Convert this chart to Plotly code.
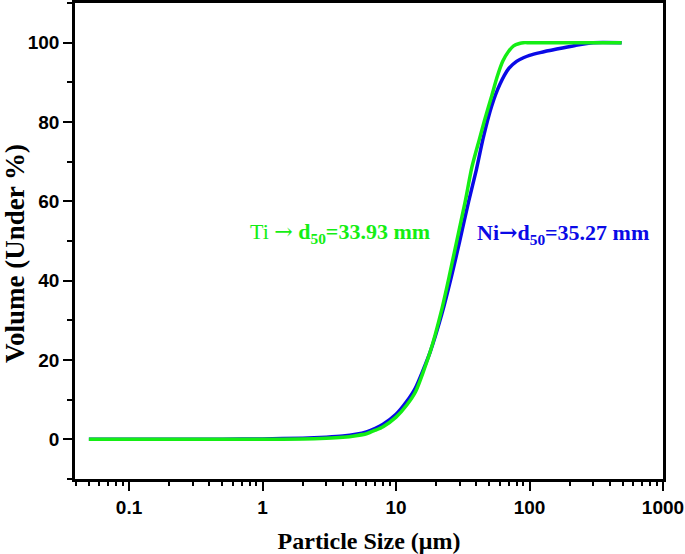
import plotly.graph_objects as go

# Ni (blue) cumulative volume curve
ni_size = [0.05, 0.1, 0.2, 0.5, 1, 2, 3, 4, 5, 6, 7, 8, 10, 12, 14, 18, 22, 26, 30,
           35, 40, 45, 52, 60, 70, 80, 90, 100, 120, 160, 220, 300, 490]
ni_vol = [0, 0, 0, 0.02, 0.1, 0.3, 0.55, 0.85, 1.3, 1.9, 2.8, 3.8, 6.3, 9.5, 13, 22, 31.5,
          41, 50, 60, 68, 76, 84, 89.5, 93.5, 95.3, 96.2, 96.8, 97.5, 98.4, 99.3, 100, 100]

# Ti (green) cumulative volume curve
ti_size = [0.05, 0.1, 0.2, 0.5, 1, 2, 3, 4, 5, 6, 7, 8, 10, 12, 14, 18, 22, 25, 28.5,
           33, 37, 42, 46, 52, 57, 63, 70, 76, 84, 90, 100, 200, 490]
ti_vol = [0, 0, 0, 0, 0.02, 0.1, 0.25, 0.5, 0.9, 1.4, 2.3, 3.2, 5.6, 8.6, 12, 22, 32.7,
          41, 50, 60, 68.6, 75.5, 80.4, 86.5, 91.2, 95.3, 97.9, 99.2, 99.8, 100, 100, 100, 100]

x_tickvals = [0.1, 1, 10, 100, 1000]
x_ticktext = ["0.1", "1", "10", "100", "1000"]
x_minor = [m * d for d in [0.01, 0.1, 1, 10, 100] for m in range(2, 10) if 0.04 <= m * d <= 1000]
y_tickvals = [0, 20, 40, 60, 80, 100]
y_ticktext = ["0", "20", "40", "60", "80", "100"]

fig = go.Figure()
fig.add_trace(go.Scatter(x=ni_size, y=ni_vol, mode="lines", line=dict(color="#0a0ae6", width=3.5, shape="spline", smoothing=0.6), showlegend=False))
fig.add_trace(go.Scatter(x=ti_size, y=ti_vol, mode="lines", line=dict(color="#14ee14", width=3.5, shape="spline", smoothing=0.6), showlegend=False))

tickfont = dict(family="Liberation Sans, Arial", size=19, color="black")
serif = "Liberation Serif, Times New Roman"

fig.update_xaxes(type="log", range=[-1.405, 3.0], showline=True, linecolor="black", linewidth=2.5,
                 mirror=True, ticks="outside", ticklen=9, tickwidth=2, tickcolor="black", automargin=False,
                 tickvals=x_tickvals, ticktext=["<b>%s</b>" % t for t in x_ticktext], tickfont=tickfont,
                 showgrid=False, zeroline=False,
                 minor=dict(tickvals=x_minor, ticks="outside", ticklen=4, tickwidth=2, tickcolor="black", showgrid=False),
                 title=dict(text="<b>Particle Size (μm)</b>", font=dict(family=serif, size=24, color="black"), standoff=16))
fig.update_yaxes(range=[-10, 110], showline=True, linecolor="black", linewidth=2.5,
                 mirror=True, ticks="outside", ticklen=9, tickwidth=2, tickcolor="black", automargin=False,
                 tickvals=y_tickvals, ticktext=["<b>%s</b>" % t for t in y_ticktext], tickfont=tickfont,
                 showgrid=False, zeroline=False,
                 minor=dict(dtick=10, tick0=0, ticks="outside", ticklen=5, tickwidth=2, tickcolor="black", showgrid=False))

# y-axis title placed as a rotated annotation (reference centres it slightly below plot middle)
fig.add_annotation(x=-0.102, y=0.4727, xref="paper", yref="paper", showarrow=False, textangle=-90,
                   xanchor="center", yanchor="middle", text="<b>Volume (Under %)</b>",
                   font=dict(family=serif, size=27, color="black"))

annfont = dict(family=serif, size=22)
arrow = '<span style="font-family:DejaVu Serif">→</span>'
fig.add_annotation(x=0.583, y=52, xref="x", yref="y", showarrow=False, xanchor="center",
                   text="Ti " + arrow + " <b>d<sub>50</sub>=33.93 mm</b>", font=dict(color="#14ee14", **annfont))
fig.add_annotation(x=2.25, y=52, xref="x", yref="y", showarrow=False, xanchor="center",
                   text="<b>Ni" + arrow + "d<sub>50</sub>=35.27 mm</b>", font=dict(color="#0a0ae6", **annfont))

fig.update_layout(width=685, height=554, plot_bgcolor="white", paper_bgcolor="white",
                  margin=dict(l=75, r=22, t=3, b=75))
fig.write_html("out.html", config={"displayModeBar": False},
               post_script="document.body.style.margin='0';document.body.style.padding='0';")
